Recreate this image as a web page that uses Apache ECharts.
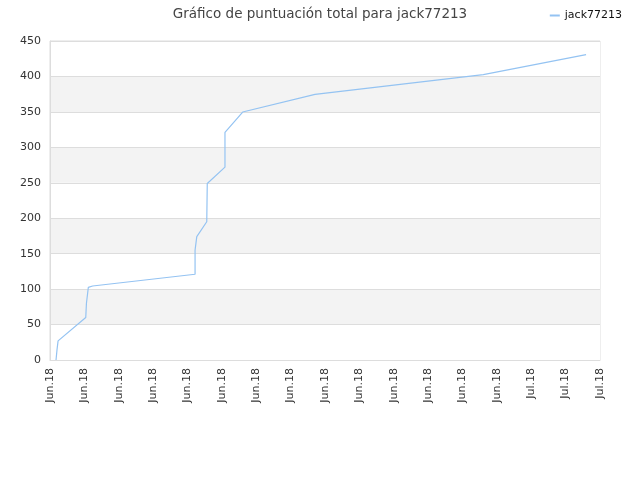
<!DOCTYPE html>
<html><head><meta charset="utf-8">
<script src="https://cdn.jsdelivr.net/npm/echarts@6/dist/echarts.min.js"></script>
<style>html,body{margin:0;padding:0;background:#fff}#c{width:640px;height:480px}</style>
</head><body><div id="c"></div>
<script>
const seriesName = 'jack77213';
const dayOffsets = [0.35, 0.41, 0.47, 2.08, 2.12, 2.23, 2.48, 8.44, 8.44, 8.54, 9.12, 9.15, 10.18, 10.18, 11.21, 15.42, 25.21, 31.19];
const scores     = [0,    15,   27,   60,   80,   102.5, 104.4, 121, 155, 174, 195, 249, 272, 321, 349.8, 374.8, 402.5, 430.7];
const xTickLabels = ['Jun.18','Jun.18','Jun.18','Jun.18','Jun.18','Jun.18','Jun.18','Jun.18','Jun.18','Jun.18','Jun.18','Jun.18','Jun.18','Jun.18','Jul.18','Jul.18','Jul.18'];

const chart = echarts.init(document.getElementById('c'));
chart.setOption({
  animation: false,
  textStyle: { fontFamily: 'DejaVu Sans' },
  title: {
    text: 'Gráfico de puntuación total para jack77213',
    left: 'center', top: 2,
    textStyle: { fontSize: 13.5, fontWeight: 'normal', color: '#444', fontFamily: 'DejaVu Sans' }
  },
  legend: {
    right: 13, top: 5, itemWidth: 10, itemHeight: 2, itemGap: 5,
    icon: 'rect',
    textStyle: { fontSize: 11, color: '#111' },
    data: [seriesName]
  },
  grid: { left: 50, right: 40, top: 41, bottom: 120, show: true, borderColor: '#ddd', borderWidth: 1, containLabel: false },
  xAxis: {
    type: 'value', min: 0, max: 32, interval: 2,
    axisLine: { show: true, lineStyle: { color: '#ddd' } },
    axisTick: { show: false },
    splitLine: { show: false },
    axisLabel: {
      rotate: 90, fontSize: 11, color: '#333', margin: 8,
      formatter: v => xTickLabels[Math.round(v / 2)] || ''
    }
  },
  yAxis: {
    type: 'value', min: 0, max: 450, interval: 50,
    axisLine: { show: true, lineStyle: { color: '#ddd' } },
    axisTick: { show: false },
    axisLabel: { fontSize: 11, color: '#333', margin: 9 },
    splitLine: { show: true, lineStyle: { color: '#ddd' } },
    splitArea: { show: true, areaStyle: { color: ['#ffffff', '#f3f3f3'] } }
  },
  series: [{
    name: seriesName, type: 'line', showSymbol: false, symbol: 'none',
    lineStyle: { color: '#94c3f2', width: 1.2 },
    itemStyle: { color: '#94c3f2' },
    data: dayOffsets.map((d, i) => [d, scores[i]])
  }]
});
</script></body></html>
